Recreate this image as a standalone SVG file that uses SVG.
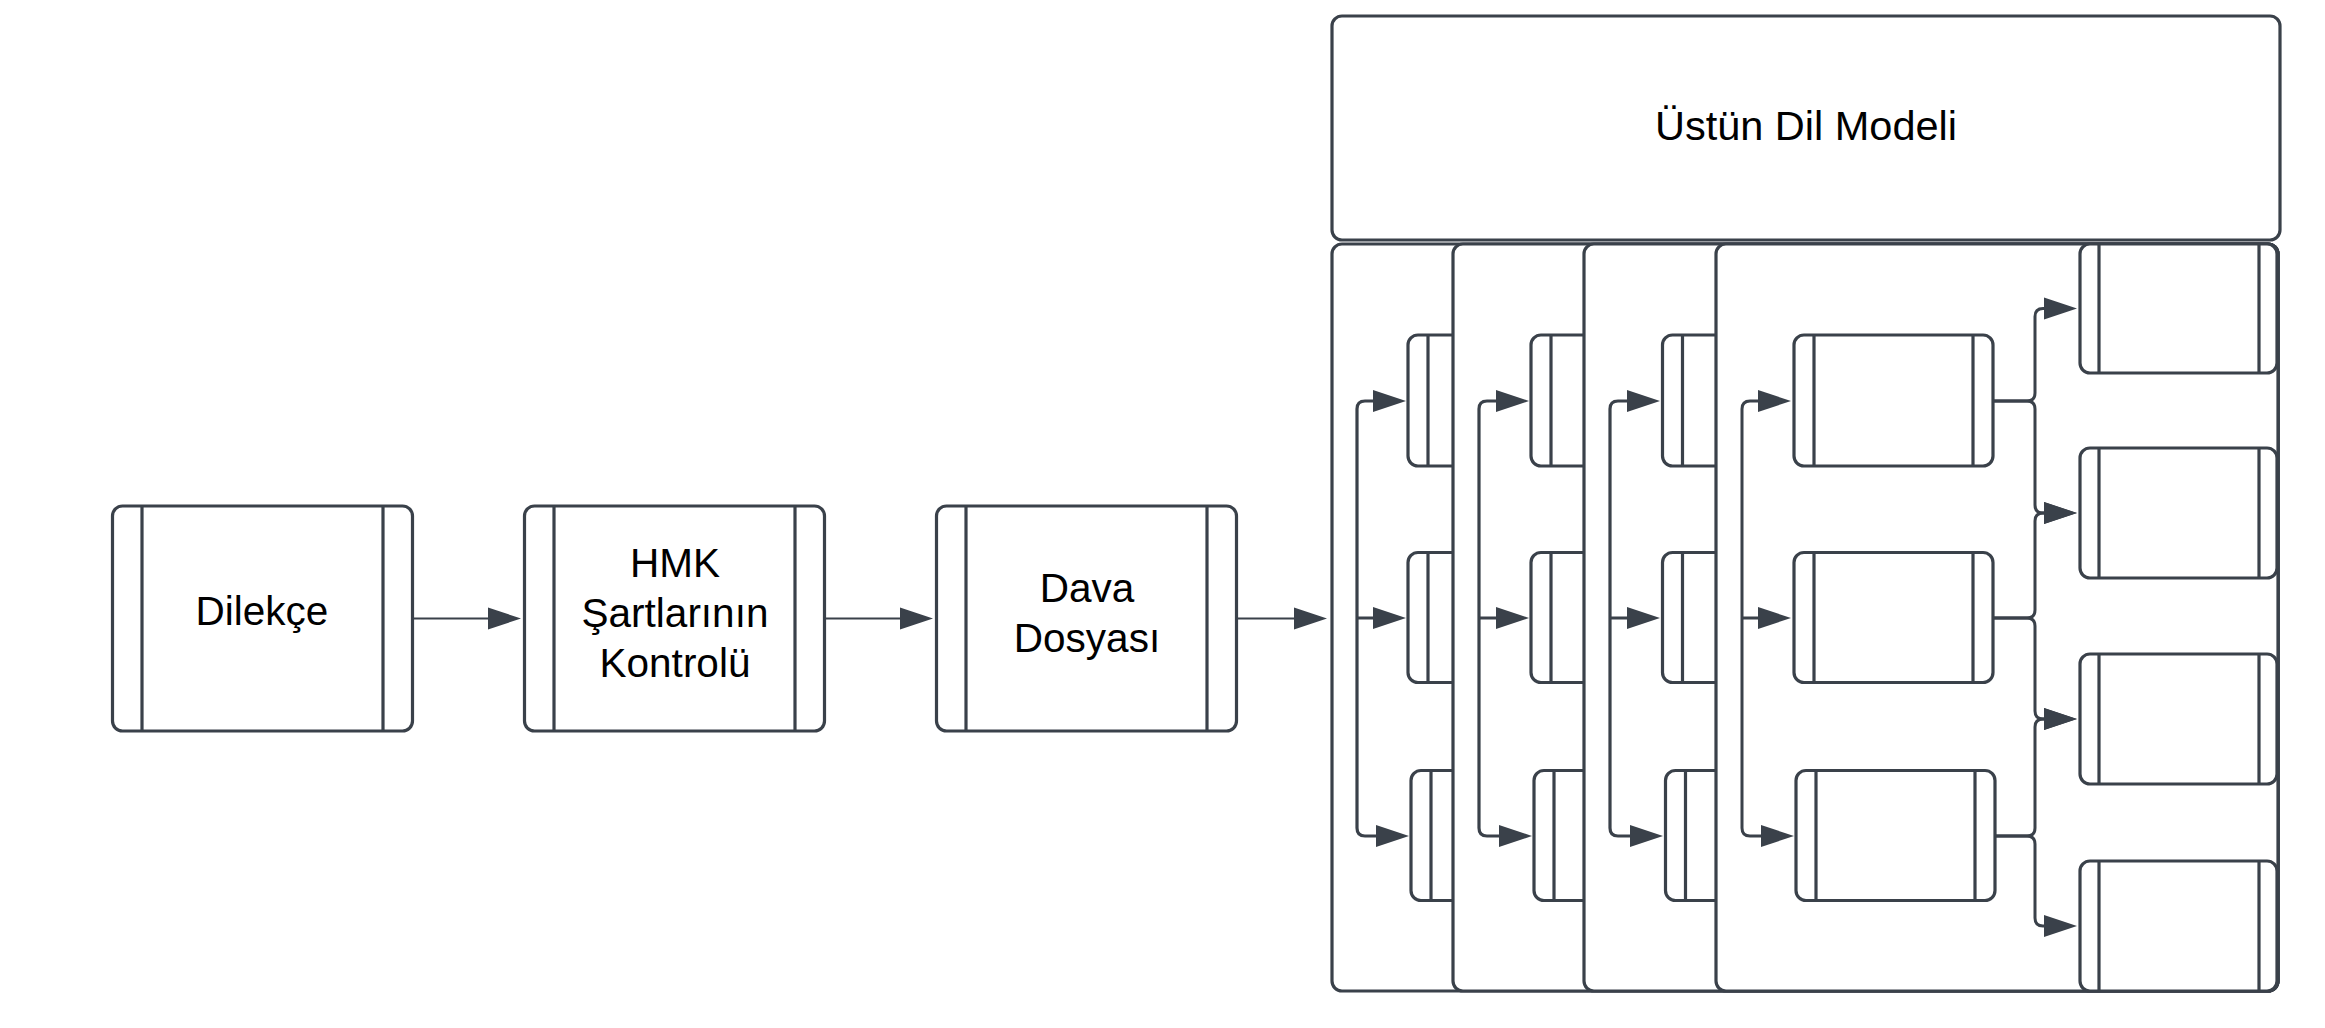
<svg xmlns="http://www.w3.org/2000/svg" width="2325" height="1028" viewBox="0 0 2325 1028">
<defs>
<style>
.box{fill:#ffffff;stroke:#3a414a;stroke-width:3.2;}
.ln{fill:none;stroke:#3a414a;stroke-width:3.2;}
.c{fill:none;stroke:#3a414a;stroke-width:3;marker-end:url(#ah);}
.c2{fill:none;stroke:#3a414a;stroke-width:2;marker-end:url(#ah);}
.t{font-family:"Liberation Sans",Arial,sans-serif;font-size:40.5px;fill:#000000;text-anchor:middle;}
.tb{font-size:41.5px;}
</style>
<marker id="ah" markerUnits="userSpaceOnUse" markerWidth="33" markerHeight="22" refX="23" refY="11" orient="auto" overflow="visible">
<path d="M0,0 L33,11 L0,22 Z" fill="#3a414a"/>
</marker>
</defs>
<rect width="2325" height="1028" fill="#ffffff"/>

<g id="dilekce">
<rect class="box" x="112.5" y="506" width="300" height="225" rx="10"/>
<line class="ln" x1="142" y1="506" x2="142" y2="731"/>
<line class="ln" x1="383" y1="506" x2="383" y2="731"/>
<text class="t" x="262" y="625">Dilekçe</text>
</g>
<g id="hmk">
<rect class="box" x="524.5" y="506" width="300" height="225" rx="10"/>
<line class="ln" x1="554" y1="506" x2="554" y2="731"/>
<line class="ln" x1="795" y1="506" x2="795" y2="731"/>
<text class="t" x="675" y="577">HMK</text>
<text class="t" x="675" y="627">Şartlarının</text>
<text class="t" x="675" y="677">Kontrolü</text>
</g>
<g id="dava">
<rect class="box" x="936.5" y="506" width="300" height="225" rx="10"/>
<line class="ln" x1="966" y1="506" x2="966" y2="731"/>
<line class="ln" x1="1207" y1="506" x2="1207" y2="731"/>
<text class="t" x="1087" y="602">Dava</text>
<text class="t" x="1087" y="652">Dosyası</text>
</g>

<g id="ustun">
<rect class="box" x="1332" y="16" width="948" height="224" rx="10"/>
<text class="t tb" x="1806" y="140">Üstün Dil Modeli</text>
</g>

<g id="frame1">
<rect class="box" x="1332" y="244" width="946" height="747" rx="10"/>
<g class="ln">
<path d="M1357,618 V409 Q1357,401 1365,401 H1396"/>
<path d="M1357,618 H1396"/>
<path d="M1357,618 V828 Q1357,836 1365,836 H1399"/>
</g>
<path class="c" d="M1390,401 H1396"/>
<path class="c" d="M1390,618 H1396"/>
<path class="c" d="M1393,836 H1399"/>
<rect class="box" x="1408" y="335" width="199" height="131" rx="10"/>
<line class="ln" x1="1428" y1="335" x2="1428" y2="466"/>
<rect class="box" x="1408" y="552.5" width="199" height="130" rx="10"/>
<line class="ln" x1="1428" y1="552.5" x2="1428" y2="682.5"/>
<rect class="box" x="1411" y="770.5" width="199" height="130" rx="10"/>
<line class="ln" x1="1431" y1="770.5" x2="1431" y2="900.5"/>
</g>

<g id="frame2">
<rect class="box" x="1453" y="244" width="825" height="747" rx="10"/>
<g class="ln">
<path d="M1479,618 V409 Q1479,401 1487,401 H1519"/>
<path d="M1479,618 H1519"/>
<path d="M1479,618 V828 Q1479,836 1487,836 H1522"/>
</g>
<path class="c" d="M1513,401 H1519"/>
<path class="c" d="M1513,618 H1519"/>
<path class="c" d="M1516,836 H1522"/>
<rect class="box" x="1531" y="335" width="199" height="131" rx="10"/>
<line class="ln" x1="1551" y1="335" x2="1551" y2="466"/>
<rect class="box" x="1531" y="552.5" width="199" height="130" rx="10"/>
<line class="ln" x1="1551" y1="552.5" x2="1551" y2="682.5"/>
<rect class="box" x="1534" y="770.5" width="199" height="130" rx="10"/>
<line class="ln" x1="1554" y1="770.5" x2="1554" y2="900.5"/>
</g>

<g id="frame3">
<rect class="box" x="1584" y="244" width="694" height="747" rx="10"/>
<g class="ln">
<path d="M1610,618 V409 Q1610,401 1618,401 H1650"/>
<path d="M1610,618 H1650"/>
<path d="M1610,618 V828 Q1610,836 1618,836 H1653"/>
</g>
<path class="c" d="M1644,401 H1650"/>
<path class="c" d="M1644,618 H1650"/>
<path class="c" d="M1647,836 H1653"/>
<rect class="box" x="1662.5" y="335" width="199" height="131" rx="10"/>
<line class="ln" x1="1682.5" y1="335" x2="1682.5" y2="466"/>
<rect class="box" x="1662.5" y="552.5" width="199" height="130" rx="10"/>
<line class="ln" x1="1682.5" y1="552.5" x2="1682.5" y2="682.5"/>
<rect class="box" x="1665.5" y="770.5" width="199" height="130" rx="10"/>
<line class="ln" x1="1685.5" y1="770.5" x2="1685.5" y2="900.5"/>
</g>

<g id="frame4">
<rect class="box" x="1716" y="244" width="562" height="747" rx="10"/>
</g>
<g id="f4-box1">
<rect class="box" x="1794" y="335" width="199" height="131" rx="10"/>
<line class="ln" x1="1814" y1="335" x2="1814" y2="466"/>
<line class="ln" x1="1973" y1="335" x2="1973" y2="466"/>
</g>
<g id="f4-box2">
<rect class="box" x="1794" y="552.5" width="199" height="130" rx="10"/>
<line class="ln" x1="1814" y1="552.5" x2="1814" y2="682.5"/>
<line class="ln" x1="1973" y1="552.5" x2="1973" y2="682.5"/>
</g>
<g id="f4-box3">
<rect class="box" x="1796" y="770.5" width="199" height="130" rx="10"/>
<line class="ln" x1="1816" y1="770.5" x2="1816" y2="900.5"/>
<line class="ln" x1="1975" y1="770.5" x2="1975" y2="900.5"/>
</g>
<g id="out1">
<rect class="box" x="2080" y="244" width="197" height="129" rx="10"/>
<line class="ln" x1="2099" y1="244" x2="2099" y2="373"/>
<line class="ln" x1="2259" y1="244" x2="2259" y2="373"/>
</g>
<g id="out2">
<rect class="box" x="2080" y="448" width="197" height="130" rx="10"/>
<line class="ln" x1="2099" y1="448" x2="2099" y2="578"/>
<line class="ln" x1="2259" y1="448" x2="2259" y2="578"/>
</g>
<g id="out3">
<rect class="box" x="2080" y="654" width="197" height="130" rx="10"/>
<line class="ln" x1="2099" y1="654" x2="2099" y2="784"/>
<line class="ln" x1="2259" y1="654" x2="2259" y2="784"/>
</g>
<g id="out4">
<rect class="box" x="2080" y="861" width="197" height="130" rx="10"/>
<line class="ln" x1="2099" y1="861" x2="2099" y2="991"/>
<line class="ln" x1="2259" y1="861" x2="2259" y2="991"/>
</g>

<g id="connectors">
<path class="c2" d="M412.5,618.5 H511"/>
<path class="c2" d="M824.5,618.5 H923"/>
<path class="c2" d="M1236.5,618.5 H1317"/>
<path class="c" d="M1742,618 V409 Q1742,401 1750,401 H1781"/>
<path class="c" d="M1742,618 H1781"/>
<path class="c" d="M1742,618 V828 Q1742,836 1750,836 H1784"/>
<path class="c" d="M1993,401 H2027 Q2035,401 2035,393 V316.5 Q2035,308.5 2043,308.5 H2067"/>
<path class="c" d="M1993,401 H2027 Q2035,401 2035,409 V505 Q2035,513 2043,513 H2067"/>
<path class="c" d="M1993,618 H2027 Q2035,618 2035,610 V521 Q2035,513 2043,513 H2067"/>
<path class="c" d="M1993,618 H2027 Q2035,618 2035,626 V711 Q2035,719 2043,719 H2067"/>
<path class="c" d="M1995,836 H2027 Q2035,836 2035,828 V727 Q2035,719 2043,719 H2067"/>
<path class="c" d="M1995,836 H2027 Q2035,836 2035,844 V918 Q2035,926 2043,926 H2067"/>
</g>
</svg>
